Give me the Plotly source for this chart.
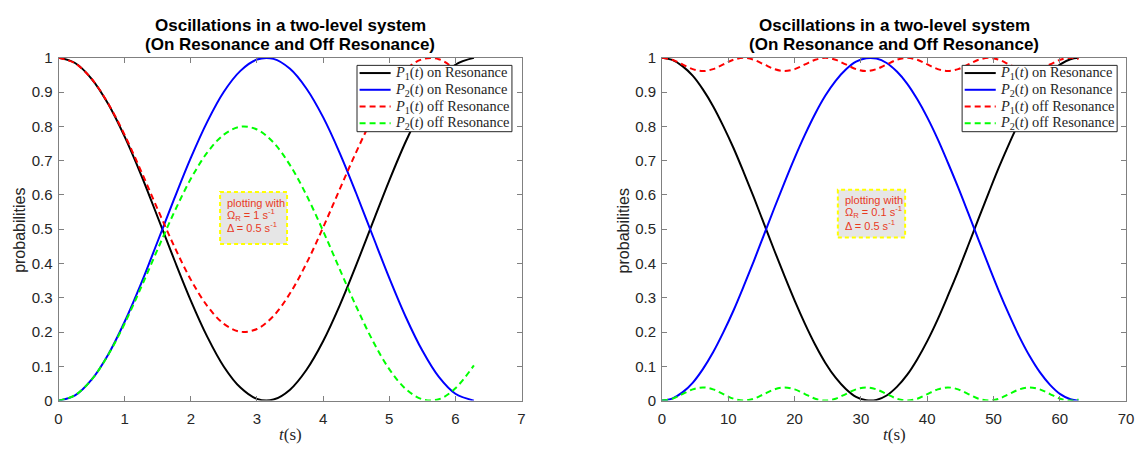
import plotly.graph_objects as go

# ---------------- data ----------------
# Left panel: Omega_R = 1 s^-1, Delta = 0.5 s^-1
t_left = [0, 0.25, 0.5, 0.75, 1.0, 1.25, 1.5, 1.75, 2.0, 2.25, 2.5, 2.75, 3.0,
          3.25, 3.5, 3.75, 4.0, 4.25, 4.5, 4.75, 5.0, 5.25, 5.5, 5.75, 6.0, 6.28]
p1_on_left = [1.000, 0.985, 0.939, 0.866, 0.770, 0.658, 0.535, 0.411, 0.292,
              0.186, 0.099, 0.038, 0.005, 0.003, 0.032, 0.090, 0.173, 0.277,
              0.395, 0.519, 0.642, 0.756, 0.854, 0.931, 0.980, 1.000]
p2_on_left = [0.000, 0.015, 0.061, 0.134, 0.230, 0.342, 0.465, 0.589, 0.708,
              0.814, 0.901, 0.962, 0.995, 0.997, 0.968, 0.910, 0.827, 0.723,
              0.605, 0.481, 0.358, 0.244, 0.146, 0.069, 0.020, 0.000]
p1_off_left = [1.000, 0.984, 0.939, 0.867, 0.775, 0.669, 0.558, 0.450, 0.353,
               0.276, 0.224, 0.201, 0.209, 0.247, 0.313, 0.401, 0.505, 0.616,
               0.725, 0.825, 0.908, 0.966, 0.996, 0.996, 0.964, 0.897]
p2_off_left = [0.000, 0.016, 0.061, 0.133, 0.225, 0.331, 0.442, 0.550, 0.647,
               0.724, 0.776, 0.799, 0.791, 0.753, 0.687, 0.599, 0.495, 0.384,
               0.275, 0.175, 0.092, 0.034, 0.004, 0.004, 0.036, 0.103]

# Right panel: Omega_R = 0.1 s^-1, Delta = 0.5 s^-1
t_right = [0, 1.540, 3.081, 4.621, 6.161, 7.702, 9.242, 10.782, 12.322, 13.863,
           15.403, 16.943, 18.484, 20.024, 21.564, 23.105, 24.645, 26.185,
           27.725, 29.266, 30.806, 32.346, 33.887, 35.427, 36.967, 38.508,
           40.048, 41.588, 43.128, 44.669, 46.209, 47.749, 49.290, 50.830,
           52.370, 53.911, 55.451, 56.991, 58.531, 60.072, 61.612, 62.832]
p1_on_right = [1.000, 0.994, 0.976, 0.948, 0.908, 0.859, 0.801, 0.737, 0.666,
               0.592, 0.515, 0.438, 0.363, 0.291, 0.224, 0.163, 0.110, 0.067,
               0.034, 0.011, 0.001, 0.002, 0.015, 0.040, 0.075, 0.121, 0.175,
               0.237, 0.306, 0.378, 0.454, 0.531, 0.607, 0.681, 0.750, 0.814,
               0.870, 0.917, 0.954, 0.981, 0.996, 1.000]
p2_on_right = [0.000, 0.006, 0.024, 0.052, 0.092, 0.141, 0.199, 0.263, 0.334,
               0.408, 0.485, 0.562, 0.637, 0.709, 0.776, 0.837, 0.890, 0.933,
               0.966, 0.989, 0.999, 0.998, 0.985, 0.960, 0.925, 0.879, 0.825,
               0.763, 0.694, 0.622, 0.546, 0.469, 0.393, 0.319, 0.250, 0.186,
               0.130, 0.083, 0.046, 0.019, 0.004, 0.000]
p2_off_right = [0.0000, 0.0056, 0.0192, 0.0328, 0.0385, 0.0328, 0.0192, 0.0056,
                0.0000, 0.0056, 0.0192, 0.0328, 0.0385, 0.0328, 0.0192, 0.0056,
                0.0000, 0.0056, 0.0192, 0.0328, 0.0385, 0.0328, 0.0192, 0.0056,
                0.0000, 0.0056, 0.0192, 0.0328, 0.0385, 0.0328, 0.0192, 0.0056,
                0.0000, 0.0056, 0.0192, 0.0328, 0.0385, 0.0328, 0.0192, 0.0056,
                0.0000, 0.0036]
p1_off_right = [round(1 - v, 4) for v in p2_off_right]

series_names = ["<i>P</i><sub>1</sub>(<i>t</i>) on Resonance",
                "<i>P</i><sub>2</sub>(<i>t</i>) on Resonance",
                "<i>P</i><sub>1</sub>(<i>t</i>) off Resonance",
                "<i>P</i><sub>2</sub>(<i>t</i>) off Resonance"]
box_lines = [["plotting with", "Ω<sub>R</sub> = 1 s<sup>-1</sup>", "Δ = 0.5 s<sup>-1</sup>"],
             ["plotting with", "Ω<sub>R</sub> = 0.1 s<sup>-1</sup>", "Δ = 0.5 s<sup>-1</sup>"]]
title_line1 = "Oscillations in a two-level system"
title_line2 = "(On Resonance and Off Resonance)"
y_label = "probabilities"
x_label = "<i>t</i>(s)"

# ---------------- figure ----------------
# The page body keeps the browser's default 8px margin, so the figure is
# sized to fill the 1147x457 window exactly together with that margin.
WIN_W, WIN_H, BODY_M = 1147, 457, 8
W, H = WIN_W - 2 * BODY_M, WIN_H - 2 * BODY_M
colors = ["#000000", "#0000ff", "#ff0000", "#00ff00"]
dashes = ["solid", "solid", "6px,4px", "6px,4px"]

fig = go.Figure()

panels = [
    dict(t=t_left, ys=[p1_on_left, p2_on_left, p1_off_left, p2_off_left],
         xa="x", ya="y"),
    dict(t=t_right, ys=[p1_on_right, p2_on_right, p1_off_right, p2_off_right],
         xa="x2", ya="y2"),
]
for p in panels:
    for i, ys in enumerate(p["ys"]):
        fig.add_trace(go.Scatter(
            x=p["t"], y=ys, mode="lines", name=series_names[i],
            line=dict(color=colors[i], width=2, dash=dashes[i], shape="spline"),
            xaxis=p["xa"], yaxis=p["ya"], showlegend=False, hoverinfo="skip",
        ))

# window pixel -> paper helpers
px = lambda v: (v - BODY_M) / W
py = lambda v: (H - (v - BODY_M)) / H

xdom1 = [px(55), px(523)]
xdom2 = [px(665), px(1134)]
ydom = [py(407), py(50.5)]

axis_common = dict(
    showgrid=False, zeroline=False, showline=True, mirror="ticks",
    linecolor="#808080", linewidth=1, ticks="inside", ticklen=5,
    tickcolor="#808080", tickwidth=1,
    tickfont=dict(family="Liberation Sans, Arial", size=15, color="#262626"),
)

fig.update_layout(
    width=W, height=H, autosize=False, margin=dict(l=0, r=0, t=0, b=0),
    paper_bgcolor="white", plot_bgcolor="white", showlegend=False,
    xaxis=dict(domain=xdom1, range=[0, 7], dtick=1, anchor="y",
               ticklabelstandoff=4, **axis_common),
    yaxis=dict(domain=ydom, range=[0, 1], dtick=0.1, anchor="x",
               ticklabelstandoff=2, **axis_common),
    xaxis2=dict(domain=xdom2, range=[0, 70], dtick=10, anchor="y2",
                ticklabelstandoff=4, **axis_common),
    yaxis2=dict(domain=ydom, range=[0, 1], dtick=0.1, anchor="x2",
                ticklabelstandoff=2, **axis_common),
)

# per-panel decorations: title, x label, y label, info box, legend box
panel_px = [
    dict(cx=(55 + 523) / 2, ylab_x=15.5, box=(218.3, 286, 190, 244),
         leg=(356.7, 513.3, 58.3, 127.3)),
    dict(cx=(665 + 1134) / 2, ylab_x=625.5, box=(842.7, 910.7, 187.7, 237.3),
         leg=(968.3, 1125, 58.3, 127.3)),
]
for k, pp in enumerate(panel_px):
    cx = pp["cx"]
    fig.add_annotation(x=px(cx), y=py(17), xref="paper", yref="paper",
                       text="<b>" + title_line1 + "</b>", showarrow=False,
                       xanchor="center", yanchor="middle",
                       font=dict(family="Liberation Sans, Arial", size=17, color="black"))
    fig.add_annotation(x=px(cx), y=py(37), xref="paper", yref="paper",
                       text="<b>" + title_line2 + "</b>", showarrow=False,
                       xanchor="center", yanchor="middle",
                       font=dict(family="Liberation Sans, Arial", size=17, color="black"))
    fig.add_annotation(x=px(cx), y=py(442), xref="paper", yref="paper",
                       text=x_label, showarrow=False,
                       xanchor="center", yanchor="middle",
                       font=dict(family="Liberation Serif, DejaVu Serif", size=17, color="#262626"))
    fig.add_annotation(x=px(pp["ylab_x"]), y=py(230), xref="paper", yref="paper",
                       text=y_label, showarrow=False, textangle=-90,
                       xanchor="center", yanchor="middle",
                       font=dict(family="Liberation Sans, Arial", size=16, color="#262626"))

    # info box (dashed yellow border on light grey)
    x0, x1, y0, y1 = pp["box"]
    fig.add_shape(type="rect", xref="paper", yref="paper",
                  x0=px(x0), x1=px(x1), y0=py(y1), y1=py(y0),
                  fillcolor="#e6e6e6", line=dict(color="#ffff00", width=2, dash="4px,3px"),
                  layer="above")
    for line_txt, off in zip(box_lines[k], [11, 23.5, 36.5]):
        fig.add_annotation(x=px(x0 + 5), y=py(y0 + off), xref="paper", yref="paper",
                           text=line_txt, showarrow=False, align="left",
                           xanchor="left", yanchor="middle",
                           font=dict(family="Liberation Sans, Arial", size=11, color="#e83a1f"))

    # legend box
    lx0, lx1, ly0, ly1 = pp["leg"]
    fig.add_shape(type="rect", xref="paper", yref="paper",
                  x0=px(lx0), x1=px(lx1), y0=py(ly1), y1=py(ly0),
                  fillcolor="white", line=dict(color="#262626", width=1), layer="above")
    for i in range(4):
        yc = ly0 + 8 + 17.4 * i
        fig.add_shape(type="line", xref="paper", yref="paper",
                      x0=px(lx0 + 2.6), x1=px(lx0 + 34), y0=py(yc), y1=py(yc),
                      line=dict(color=colors[i], width=2, dash=dashes[i]), layer="above")
        fig.add_annotation(x=px(lx0 + 36.5), y=py(yc), xref="paper", yref="paper",
                           text=series_names[i], showarrow=False, align="left",
                           xanchor="left", yanchor="middle",
                           font=dict(family="Liberation Serif, DejaVu Serif", size=14.4,
                                     color="#262626"))

fig.write_html("out.html", config={"displayModeBar": False, "staticPlot": True})
